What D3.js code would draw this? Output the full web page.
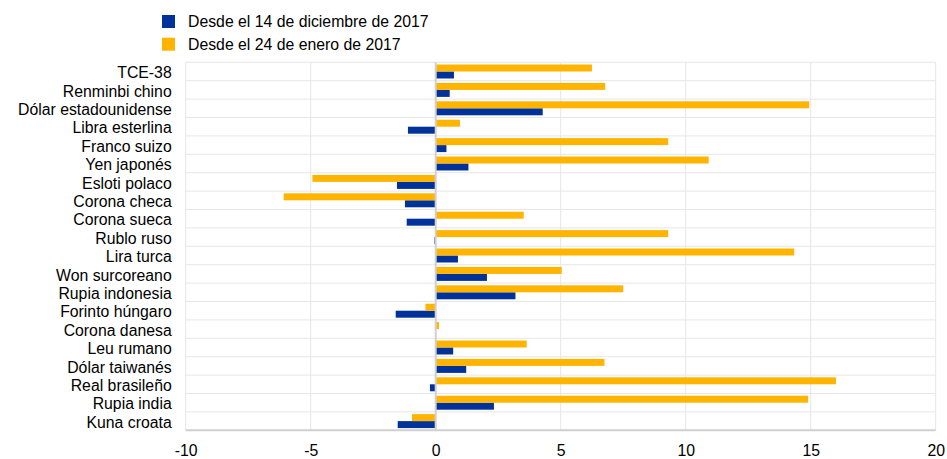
<!DOCTYPE html>
<html><head><meta charset="utf-8">
<script src="https://cdn.jsdelivr.net/npm/d3@7/dist/d3.min.js"></script>
<style>body{margin:0;background:#fff;}svg{display:block;font-family:"Liberation Sans",Arial,sans-serif;}</style>
</head><body><svg id="c" width="947" height="459"></svg>
<script>
const categories = ["TCE-38","Renminbi chino","Dólar estadounidense","Libra esterlina","Franco suizo","Yen japonés","Esloti polaco","Corona checa","Corona sueca","Rublo ruso","Lira turca","Won surcoreano","Rupia indonesia","Forinto húngaro","Corona danesa","Leu rumano","Dólar taiwanés","Real brasileño","Rupia india","Kuna croata"];
const seriesNames = ["Desde el 14 de diciembre de 2017","Desde el 24 de enero de 2017"];
const sinceDec = [0.73,0.56,4.28,-1.11,0.43,1.31,-1.55,-1.23,-1.16,-0.05,0.89,2.05,3.19,-1.6,0.0,0.7,1.22,-0.23,2.33,-1.52];
const sinceJan = [6.25,6.78,14.94,0.97,9.3,10.92,-4.93,-6.08,3.52,9.3,14.34,5.04,7.5,-0.41,0.13,3.64,6.75,16.01,14.9,-0.95];
const xTicks = [-10,-5,0,5,10,15,20];
const colors = ["#003299","#FFB400"];

const FS = 15.8;
const svg = d3.select("#c");
const L = 185.7, R = 935.7, T = 62.3, B = 430.3;
const x = d3.scaleLinear().domain([-10,20]).range([L,R]);
const y = d3.scaleBand().domain(categories).range([T,B]).paddingInner(0.24).paddingOuter(0.12);
const sub = d3.scaleBand().domain([1,0]).range([0,y.bandwidth()]);

// grid
const g = svg.append("g");
g.selectAll(".vg").data(xTicks).join("line")
  .attr("x1",d=>x(d)).attr("x2",d=>x(d)).attr("y1",T).attr("y2",B)
  .attr("stroke","#e6e6e6").attr("stroke-width",1);
const step = (B-T)/categories.length;
g.selectAll(".hg").data(d3.range(categories.length+1)).join("line")
  .attr("x1",L).attr("x2",R).attr("y1",i=>T+i*step).attr("y2",i=>T+i*step)
  .attr("stroke","#e6e6e6").attr("stroke-width",1);

// bars
const rows = svg.append("g").selectAll("g").data(categories).join("g")
  .attr("transform",d=>`translate(0,${y(d)})`);
[sinceDec, sinceJan].forEach((vals,si)=>{
  rows.append("rect")
    .attr("x",(d,i)=>x(Math.min(0,vals[i])))
    .attr("width",(d,i)=>Math.abs(x(vals[i])-x(0)))
    .attr("y",sub(si)).attr("height",sub.bandwidth())
    .attr("fill",colors[si]);
});

// zero line and bottom axis line
svg.append("line").attr("x1",x(0)).attr("x2",x(0)).attr("y1",T).attr("y2",B)
  .attr("stroke","#d0d0d0").attr("stroke-width",2);
svg.append("line").attr("x1",L).attr("x2",R).attr("y1",B).attr("y2",B)
  .attr("stroke","#d0d0d0").attr("stroke-width",2);

// x axis labels
const xa = svg.append("g").attr("transform",`translate(0,${B})`)
  .call(d3.axisBottom(x).tickValues(xTicks).tickSize(0).tickPadding(14).tickFormat(d=>String(d)));
xa.select(".domain").remove();
xa.selectAll("text").attr("font-size",FS).attr("fill","#000").attr("font-family","Liberation Sans, Arial, sans-serif");

// y labels
const ya = svg.append("g").attr("transform",`translate(${L},0)`)
  .call(d3.axisLeft(y).tickSize(0).tickPadding(14));
ya.select(".domain").remove();
ya.selectAll("text").attr("font-size",FS).attr("fill","#000").attr("dy","0.42em").attr("font-family","Liberation Sans, Arial, sans-serif");

// legend
const leg = svg.append("g");
seriesNames.forEach((n,i)=>{
  leg.append("rect").attr("x",162).attr("y",15+i*22.7).attr("width",13).attr("height",13).attr("fill",colors[i]);
  leg.append("text").attr("x",188).attr("y",21.5+i*22.7).attr("dy","0.35em")
    .attr("font-size",FS).attr("fill","#000").text(n);
});
</script></body></html>
